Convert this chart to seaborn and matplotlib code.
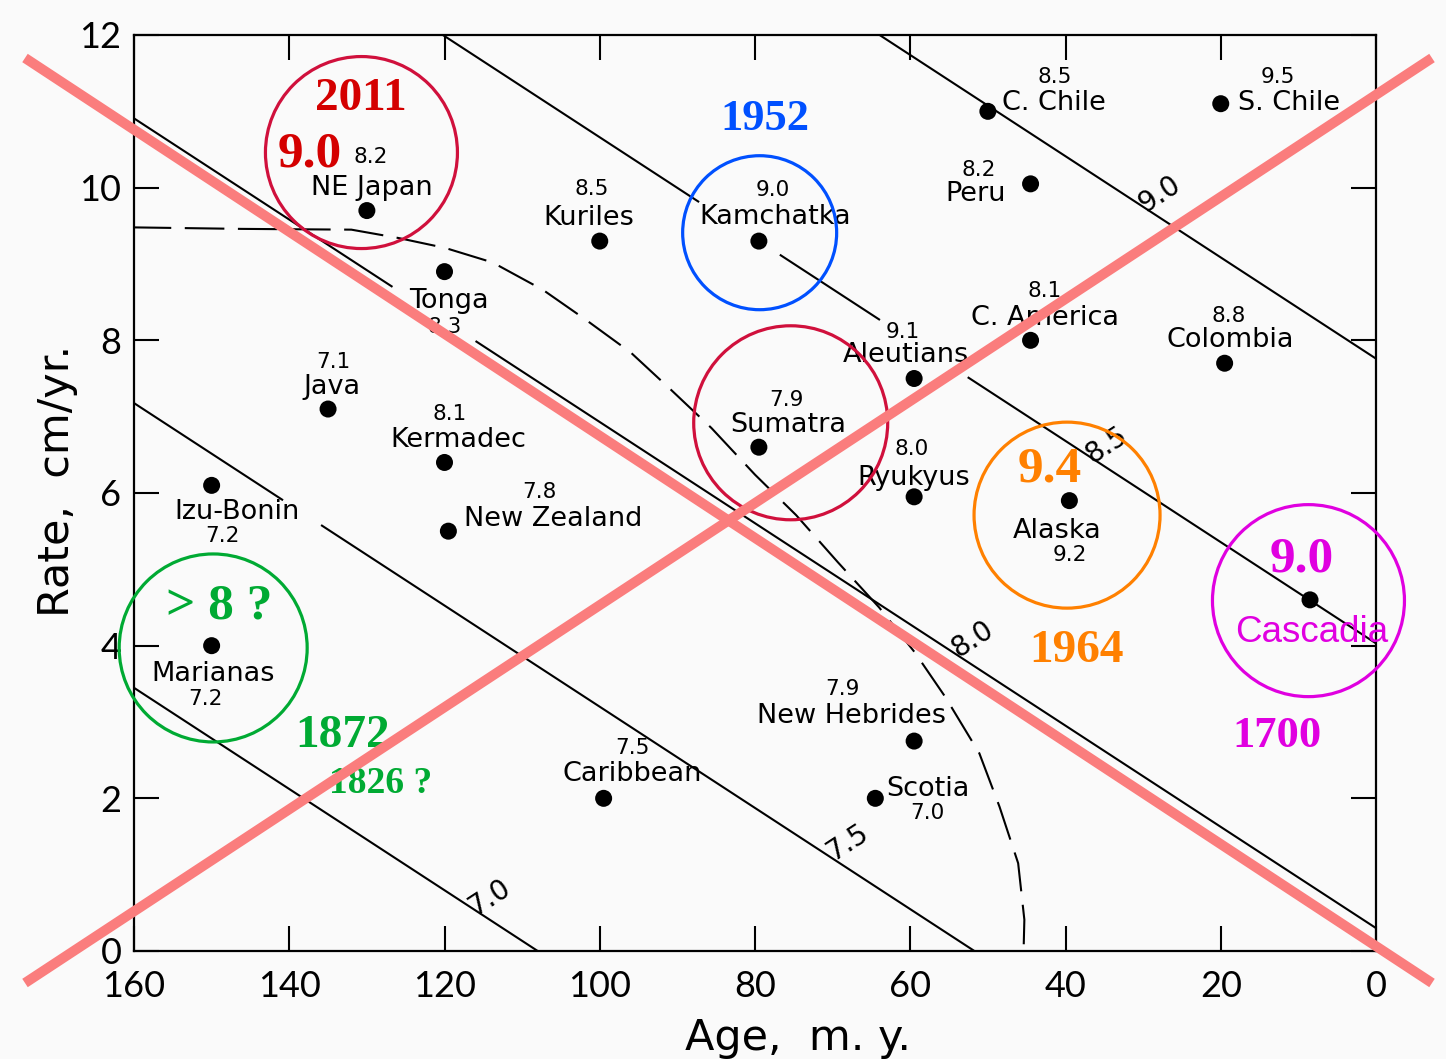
import numpy as np
import pandas as pd
import matplotlib
matplotlib.use("Agg")
import matplotlib.pyplot as plt
from matplotlib.lines import Line2D
import seaborn as sns

# ---------------------------------------------------------------- data
regions = ["NE Japan", "Tonga", "Kuriles", "Kamchatka", "C. Chile", "S. Chile",
           "Peru", "C. America", "Colombia", "Aleutians", "Java", "Kermadec",
           "Sumatra", "Ryukyus", "Alaska", "Izu-Bonin", "New Zealand",
           "Cascadia", "Marianas", "New Hebrides", "Caribbean", "Scotia"]
age_my = [130, 120, 100, 79.5, 50, 20, 44.5, 44.5, 19.5, 59.5, 135, 120,
          79.5, 59.5, 39.5, 150, 119.5, 8.5, 150, 59.5, 99.5, 64.5]
rate_cm_yr = [9.7, 8.9, 9.3, 9.3, 11.0, 11.1, 10.05, 8.0, 7.7, 7.5, 7.1, 6.4,
              6.6, 5.95, 5.9, 6.1, 5.5, 4.6, 4.0, 2.75, 2.0, 2.0]
max_mw = ["8.2", "8.3", "8.5", "9.0", "8.5", "9.5", "8.2", "8.1", "8.8", "9.1",
          "7.1", "8.1", "7.9", "8.0", "9.2", "7.2", "7.8", "", "7.2", "7.9",
          "7.5", "7.0"]

# straight magnitude contours: rate = rate_at_age0 + slope * age
contour_mw = ["7.0", "7.5", "8.0", "8.5", "9.0"]
contour_rate_at_age0 = [-7.16, -3.43, 0.30, 4.03, 7.76]
contour_slope = 0.0663
# stretches of each contour left open for the region labels (m.y.)
contour_gaps = {"7.5": [(135.9, 140.8)],
                "8.0": [(116.0, 126.7)],
                "8.5": [(76.8, 87.2), (52.6, 63.9)]}

# dashed boundary curve
curve_age = [160.3, 146.2, 132.0, 125.9, 119.9, 113.8, 107.3, 101.8, 96.0,
             90.8, 85.6, 80.0, 74.7, 69.3, 64.0, 59.4, 55.5, 51.1, 48.5,
             46.1, 45.3, 45.4]
curve_rate = [9.48, 9.46, 9.45, 9.34, 9.21, 9.02, 8.66, 8.27, 7.84, 7.35,
              6.85, 6.24, 5.71, 5.09, 4.50, 3.91, 3.33, 2.59, 1.89, 1.15,
              0.41, 0.0]

# highlighted events
circle_region = ["NE Japan", "Kamchatka", "Sumatra", "Alaska", "Cascadia", "Marianas"]
circle_age = [130.7, 79.4, 75.4, 39.8, 8.7, 149.8]
circle_rate = [10.46, 9.41, 6.92, 5.71, 4.59, 3.97]

x_ticks = [160, 140, 120, 100, 80, 60, 40, 20, 0]
y_ticks = [0, 2, 4, 6, 8, 10, 12]

df = pd.DataFrame({"region": regions, "age": age_my, "rate": rate_cm_yr, "mw": max_mw})

# ---------------------------------------------------------------- layout
W, H = 1446, 1059
BG = "#fafafa"
RED_X = "#fa7d7d"
CRIMSON = "#d0103c"
CRIMSON_T = "#d40000"
BLUE = "#0050ff"
ORANGE = "#ff8000"
MAGENTA = "#e000e0"
GREEN = "#00aa33"

# label offsets in pixels from each dot (+y is up): (name dx, dy, value dx, dy)
label_offsets = {
    "NE Japan": (5, 23, 4, 54), "Tonga": (4, -29, 0, -55),
    "Kuriles": (-11, 23, -8, 52), "Kamchatka": (16, 24, 14, 51),
    "C. Chile": (66, 8, 67, 34), "S. Chile": (68, 1, 57, 27),
    "Peru": (-55, -10, -52, 14), "C. America": (14, 22, 14, 49),
    "Colombia": (6, 23, 4, 47), "Aleutians": (-8, 23, -11, 47),
    "Java": (4, 22, 5, 47), "Kermadec": (14, 22, 5, 48),
    "Sumatra": (29, 22, 28, 47), "Ryukyus": (0, 19, -3, 48),
    "Alaska": (-12, -30, 0, -54), "Izu-Bonin": (25, -27, 11, -51),
    "New Zealand": (105, 12, 91, 39), "Marianas": (1, -28, -6, -53),
    "New Hebrides": (-63, 25, -72, 52), "Caribbean": (29, 24, 29, 50),
    "Scotia": (53, 9, 52, -15),
}
circle_radius_px = [96, 77, 97, 93, 96, 94]
circle_colors = [CRIMSON, BLUE, CRIMSON, ORANGE, MAGENTA, GREEN]

contour_label_pos = {"9.0": (27.9, 9.91), "8.5": (34.7, 6.63), "8.0": (52.0, 4.08),
                     "7.5": (68.0, 1.42), "7.0": (114.1, 0.71)}

# ---------------------------------------------------------------- figure
sns.set_theme(style="ticks")
plt.rcParams["font.family"] = ["DejaVu Sans"]

fig = plt.figure(figsize=(W / 100, H / 100), dpi=100, facecolor=BG)
ax = fig.add_axes([134 / W, 1 - 951 / H, (1376 - 134) / W, 916 / H])
ax.set_facecolor(BG)
ax.set_xlim(160, 0)
ax.set_ylim(0, 12)

# magnitude contours
for mw, r0 in zip(contour_mw, contour_rate_at_age0):
    edges = [0.0]
    for g0, g1 in sorted(contour_gaps.get(mw, [])):
        edges += [g0, g1]
    edges.append(165.0)
    for a0, a1 in zip(edges[0::2], edges[1::2]):
        seg = np.array([a0, a1])
        ax.plot(seg, r0 + contour_slope * seg, color="black", lw=1.5,
                solid_capstyle="butt", zorder=2)

# contour labels, rotated along the lines
fig.canvas.draw()
p0 = ax.transData.transform((100, 0))
p1 = ax.transData.transform((0, 100 * contour_slope))
angle = np.degrees(np.arctan2(p0[1] - p1[1], p1[0] - p0[0]))
for mw, (a, r) in contour_label_pos.items():
    ax.text(a, r, mw, rotation=-angle, rotation_mode="anchor", ha="center",
            va="center", fontsize=20, color="black", zorder=3)

# dashed boundary
bl, = ax.plot(curve_age, curve_rate, color="black", lw=1.5, zorder=2)
bl.set_dashes([19, 6.5])

# subduction zones
sns.scatterplot(data=df, x="age", y="rate", color="black", s=150,
                edgecolor="none", ax=ax, zorder=4, legend=False)

for _, row in df.iterrows():
    if row["region"] not in label_offsets:
        continue
    ndx, ndy, mdx, mdy = label_offsets[row["region"]]
    ax.annotate(row["region"], (row["age"], row["rate"]), xytext=(ndx, ndy),
                textcoords="offset pixels", ha="center", va="center",
                fontsize=19.5, color="black", zorder=3)
    ax.annotate(row["mw"], (row["age"], row["rate"]), xytext=(mdx, mdy),
                textcoords="offset pixels", ha="center", va="center",
                fontsize=15.5, color="black", zorder=3)

# highlight circles
for a, r, rad, c in zip(circle_age, circle_rate, circle_radius_px, circle_colors):
    d_pt = 2 * rad * 72 / 100
    ax.scatter([a], [r], s=d_pt ** 2, marker="o", facecolors="none",
               edgecolors=c, linewidths=2.3, zorder=5, clip_on=False)

# event annotations
serif = dict(family="Liberation Serif", weight="bold", ha="center", va="baseline",
             zorder=6, clip_on=False)
ax.text(130.8, 11.02, "2011", color=CRIMSON_T, fontsize=34, **serif)
ax.text(137.3, 10.28, "9.0", color=CRIMSON_T, fontsize=37, **serif)
ax.text(78.7, 10.76, "1952", color=BLUE, fontsize=32, **serif)
ax.text(42.0, 6.15, "9.4", color=ORANGE, fontsize=37, **serif)
ax.text(38.6, 3.79, "1964", color=ORANGE, fontsize=34, **serif)
ax.text(9.6, 4.97, "9.0", color=MAGENTA, fontsize=37, **serif)
ax.text(12.7, 2.67, "1700", color=MAGENTA, fontsize=32, **serif)
ax.text(149.0, 4.36, "> 8 ?", color=GREEN, fontsize=37, **serif)
ax.text(133.1, 2.67, "1872", color=GREEN, fontsize=34, **serif)
ax.text(128.2, 2.07, "1826 ?", color=GREEN, fontsize=27, **serif)
ax.text(8.3, 4.05, "Cascadia", color=MAGENTA, fontsize=26.5, family="Liberation Sans",
        ha="center", va="baseline", zorder=6, clip_on=False)

# axes frame and ticks
ax.set_xticks(x_ticks)
ax.set_yticks(y_ticks)
ax.set_xticklabels([str(t) for t in x_ticks])
ax.set_yticklabels([str(t) for t in y_ticks])
for s in ax.spines.values():
    s.set_visible(True)
    s.set_linewidth(1.6)
    s.set_color("black")
ax.tick_params(axis="both", direction="in", length=18, width=1.5, color="black",
               top=True, right=True, labelsize=26, labelcolor="black")
ax.tick_params(axis="x", pad=14)
ax.tick_params(axis="y", pad=9)
for lab in ax.get_xticklabels() + ax.get_yticklabels():
    lab.set_family("Lato")

ax.set_xlabel("Age,  m. y.", fontsize=31, color="black")
ax.set_ylabel("Rate,  cm/yr.", fontsize=31, color="black")
ax.xaxis.set_label_coords(0.535, -0.072)
ax.yaxis.set_label_coords(-0.045, 0.513)

# crossing lines over the whole diagram
fig.add_artist(Line2D([25 / W, 1432 / W], [1 - 58 / H, 1 - 983 / H],
                      color=RED_X, lw=7.2, solid_capstyle="butt", zorder=10))
fig.add_artist(Line2D([25 / W, 1432 / W], [1 - 983 / H, 1 - 58 / H],
                      color=RED_X, lw=7.2, solid_capstyle="butt", zorder=10))

fig.savefig("out.png", dpi=100, facecolor=BG)
